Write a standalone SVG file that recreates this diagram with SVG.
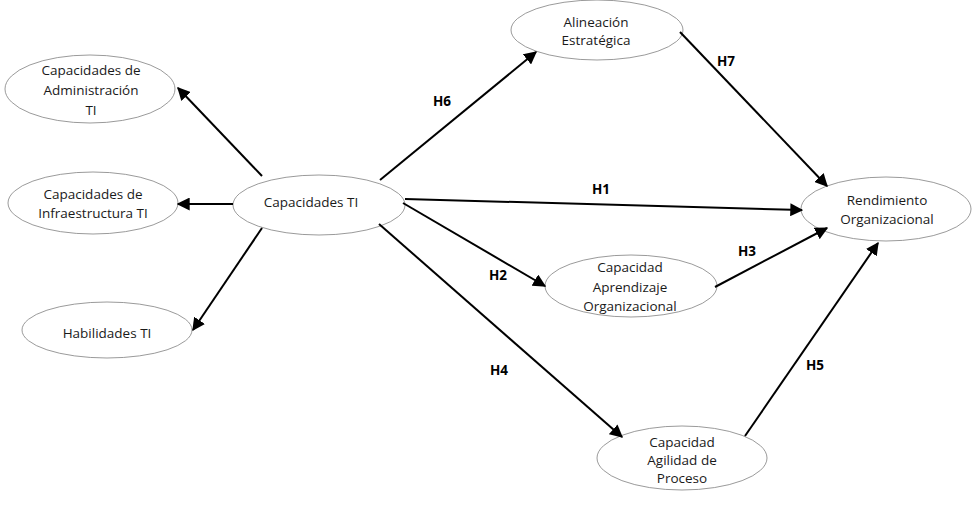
<svg xmlns="http://www.w3.org/2000/svg" width="975" height="511" viewBox="0 0 975 511">
<style>
.node ellipse{fill:#fff;stroke:#808080;stroke-width:0.8}
.node text{font-family:"Open Sans","Liberation Sans",sans-serif;font-size:13.5px;fill:#1a1a1a;text-anchor:middle}
.edges line{stroke:#000;stroke-width:2;marker-end:url(#arr)}
.lbl{font-family:"Open Sans","Liberation Sans",sans-serif;font-size:13.5px;font-weight:bold;fill:#000;text-anchor:middle}
</style>
<defs>
<marker id="arr" viewBox="0 0 10 10" refX="9" refY="5" markerWidth="6.5" markerHeight="6.5" markerUnits="strokeWidth" orient="auto">
<path d="M0,0 L10,5 L0,10 z" fill="#000"/>
</marker>
</defs>
<rect width="975" height="511" fill="#fff"/>
<g id="n-admin" class="node"><ellipse cx="90" cy="89" rx="85" ry="34"/><text x="91" y="75">Capacidades de</text><text x="91" y="95">Administración</text><text x="91" y="115">TI</text></g>
<g id="n-infra" class="node"><ellipse cx="93" cy="203" rx="85" ry="31"/><text x="93" y="199">Capacidades de</text><text x="93" y="218">Infraestructura TI</text></g>
<g id="n-habil" class="node"><ellipse cx="107" cy="330" rx="85" ry="28"/><text x="107" y="338">Habilidades TI</text></g>
<g id="n-capti" class="node"><ellipse cx="319" cy="205" rx="86" ry="30"/><text x="311" y="207">Capacidades TI</text></g>
<g id="n-alin" class="node"><ellipse cx="597" cy="30" rx="86" ry="30"/><text x="596" y="27">Alineación</text><text x="596" y="45">Estratégica</text></g>
<g id="n-rend" class="node"><ellipse cx="886" cy="209" rx="85" ry="32"/><text x="887" y="205">Rendimiento</text><text x="887" y="224">Organizacional</text></g>
<g id="n-aprend" class="node"><ellipse cx="631" cy="286" rx="86" ry="31"/><text x="630" y="272">Capacidad</text><text x="630" y="292">Aprendizaje</text><text x="630" y="311">Organizacional</text></g>
<g id="n-agil" class="node"><ellipse cx="682" cy="458" rx="85" ry="32"/><text x="682" y="447">Capacidad</text><text x="682" y="465">Agilidad de</text><text x="682" y="483">Proceso</text></g>
<g id="edges" class="edges">
<line x1="262" y1="176" x2="178" y2="88"/>
<line x1="233" y1="204" x2="178" y2="204"/>
<line x1="262" y1="228" x2="193" y2="330"/>
<line x1="380" y1="180" x2="536" y2="52"/>
<line x1="405" y1="199" x2="802" y2="210"/>
<line x1="403" y1="203" x2="545" y2="286"/>
<line x1="379" y1="224" x2="622" y2="437"/>
<line x1="680" y1="32" x2="827" y2="186"/>
<line x1="715" y1="287" x2="827" y2="228"/>
<line x1="745" y1="436" x2="878" y2="243"/>
</g>
<g id="labels">
<text class="lbl" x="442" y="106">H6</text>
<text class="lbl" x="726" y="66">H7</text>
<text class="lbl" x="601" y="194">H1</text>
<text class="lbl" x="498" y="280">H2</text>
<text class="lbl" x="747" y="256">H3</text>
<text class="lbl" x="499" y="375">H4</text>
<text class="lbl" x="815" y="370">H5</text>
</g>
</svg>
